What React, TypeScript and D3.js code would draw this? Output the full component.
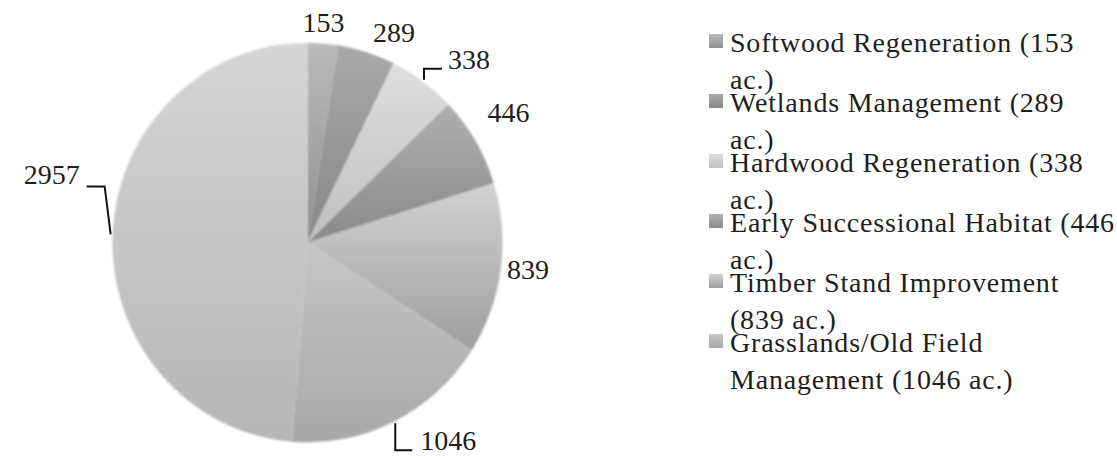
import * as d3 from "d3";

const values = [153, 289, 338, 446, 839, 1046, 2957];
const valueLabels = ["153", "289", "338", "446", "839", "1046", "2957"];
const legendLines = [
  ["Softwood Regeneration (153", "ac.)"],
  ["Wetlands Management (289", "ac.)"],
  ["Hardwood Regeneration (338", "ac.)"],
  ["Early Successional Habitat (446", "ac.)"],
  ["Timber Stand Improvement", "(839 ac.)"],
  ["Grasslands/Old Field", "Management (1046 ac.)"],
];
const topColors = ["#bababa", "#a9a9a9", "#dedede", "#afafaf", "#d2d2d2", "#c6c6c6", "#d5d5d5"];
const bottomColors = ["#909090", "#888888", "#c0c0c0", "#8a8a8a", "#9e9e9e", "#a8a8a8", "#b6b6b6"];

// label layout: plain labels get a nudge, others get a leader line
type LabelLayout =
  | { kind: "plain"; dx: number; dy: number }
  | { kind: "leader"; elbow: [number, number]; end: [number, number]; text: [number, number]; anchor: "start" | "end" };

const labelLayout: LabelLayout[] = [
  { kind: "plain", dx: -1, dy: 0.5 },
  { kind: "plain", dx: 21, dy: 1 },
  { kind: "leader", elbow: [0, -11], end: [18, -11], text: [6, -9], anchor: "start" },
  { kind: "plain", dx: 15, dy: -18 },
  { kind: "plain", dx: 6.5, dy: -2 },
  { kind: "leader", elbow: [0, 27], end: [17, 27], text: [8, -10], anchor: "start" },
  { kind: "leader", elbow: [-6, -48], end: [-24, -48], text: [-7, -12], anchor: "end" },
];

const width = 1117;
const height = 456;
const cx = 307.5;
const cy = 242.5;
const radius = 195;
const labelRadius = 216;
const squash = 1.025;
const font = "'Liberation Serif', 'Times New Roman', serif";

export default function App() {
  const pie = d3.pie<number>().sort(null).value((d) => d);
  const arcs = pie(values);
  const arc = d3.arc<d3.PieArcDatum<number>>().innerRadius(0).outerRadius(radius);

  const polar = (a: number, r: number): [number, number] => [
    cx + Math.sin(a) * r,
    cy - Math.cos(a) * r * squash,
  ];

  return (
    <svg
      width={width}
      height={height}
      style={{ position: "absolute", left: 0, top: 0, background: "#fff" }}
    >
      <defs>
        {values.map((_, i) => (
          <linearGradient key={i} id={`g${i}`} x1="0" y1="0" x2="0" y2="1">
            <stop offset="0%" stopColor={topColors[i]} />
            <stop offset="100%" stopColor={bottomColors[i]} />
          </linearGradient>
        ))}
        <filter id="soft" x="-5%" y="-5%" width="110%" height="110%">
          <feGaussianBlur stdDeviation="0.8" />
        </filter>
      </defs>

      <g transform={`translate(${cx},${cy}) scale(1,${squash})`} filter="url(#soft)">
        {arcs.map((a, i) => (
          <path key={i} d={arc(a) ?? ""} fill={`url(#g${i})`} />
        ))}
      </g>

      {arcs.map((a, i) => {
        const mid = (a.startAngle + a.endAngle) / 2;
        const lay = labelLayout[i];
        if (lay.kind === "plain") {
          const [x, y] = polar(mid, labelRadius);
          return (
            <text
              key={i}
              x={x + lay.dx}
              y={y + lay.dy}
              textAnchor="middle"
              dominantBaseline="central"
              fontFamily={font}
              fontSize={28}
              fill="#1e1e1e"
            >
              {valueLabels[i]}
            </text>
          );
        }
        const [x0, y0] = polar(mid, radius + 2);
        const ex = x0 + lay.elbow[0];
        const ey = y0 + lay.elbow[1];
        const tx = x0 + lay.end[0];
        const ty = y0 + lay.end[1];
        return (
          <g key={i}>
            <path
              d={`M${x0},${y0}L${ex},${ey}L${tx},${ty}`}
              fill="none"
              stroke="#111"
              strokeWidth={2}
            />
            <text
              x={tx + lay.text[0]}
              y={ty + lay.text[1]}
              textAnchor={lay.anchor}
              dominantBaseline="central"
              fontFamily={font}
              fontSize={28}
              fill="#1e1e1e"
            >
              {valueLabels[i]}
            </text>
          </g>
        );
      })}

      <g transform="translate(709,42)">
        {legendLines.map((lines, i) => (
          <g key={i} transform={`translate(0,${i * 60})`}>
            <rect x={0} y={-8} width={14} height={14} fill={`url(#g${i})`} />
            {lines.map((t, j) => (
              <text
                key={j}
                x={21}
                y={j * 37}
                dominantBaseline="central"
                fontFamily={font}
                fontSize={28}
                letterSpacing={0.8}
                fill="#1e1e1e"
              >
                {t}
              </text>
            ))}
          </g>
        ))}
      </g>
    </svg>
  );
}
